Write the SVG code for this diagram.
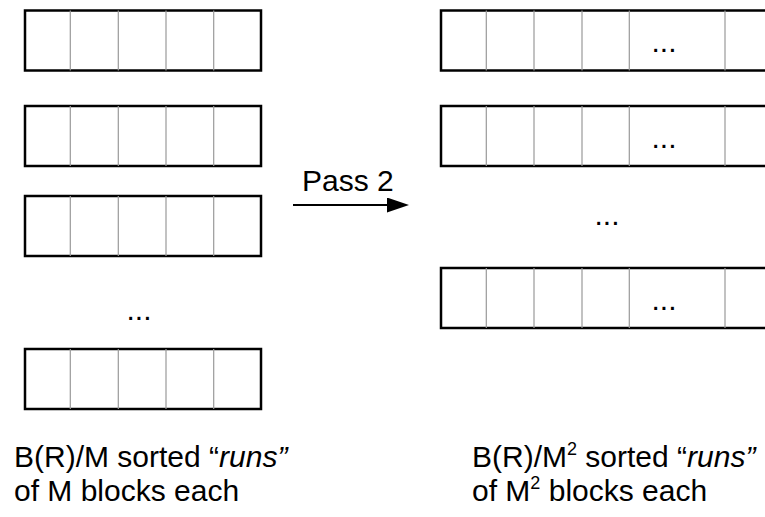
<svg xmlns="http://www.w3.org/2000/svg" width="765" height="517" viewBox="0 0 765 517">
<defs>
<style>
.frame{fill:#fff;stroke:#000;stroke-width:2.5}
.div{stroke:#999;stroke-width:1.2}
.t{font-family:"Liberation Sans",Arial,sans-serif;fill:#000;font-size:30px}
.dots{font-family:"Liberation Sans",Arial,sans-serif;font-size:30px;fill:#000;text-anchor:middle}
</style>
<marker id="ah" markerWidth="22" markerHeight="15" refX="0" refY="7.5" orient="auto" markerUnits="userSpaceOnUse" viewBox="0 0 22 15">
<path d="M0,0 L22,7.5 L0,15 Z" fill="#000"/>
</marker>
<g id="rowL">
<rect class="frame" x="25" y="0" width="236" height="60"/>
<line class="div" x1="70.3" y1="0" x2="70.3" y2="60"/>
<line class="div" x1="118.3" y1="0" x2="118.3" y2="60"/>
<line class="div" x1="166" y1="0" x2="166" y2="60"/>
<line class="div" x1="213.7" y1="0" x2="213.7" y2="60"/>
</g>
<g id="rowR">
<path class="frame" d="M770,0 H441 V60 H770"/>
<line class="div" x1="486.3" y1="0" x2="486.3" y2="60"/>
<line class="div" x1="534" y1="0" x2="534" y2="60"/>
<line class="div" x1="582" y1="0" x2="582" y2="60"/>
<line class="div" x1="629.3" y1="0" x2="629.3" y2="60"/>
<line class="div" x1="725" y1="0" x2="725" y2="60"/>
</g>
</defs>
<g id="left-run-1"><use href="#rowL" y="10.5"/></g>
<g id="left-run-2"><use href="#rowL" y="106"/></g>
<g id="left-run-3"><use href="#rowL" y="196"/></g>
<g id="left-ellipsis"><text class="dots" x="139" y="320">...</text></g>
<g id="left-run-4"><use href="#rowL" y="349"/></g>

<g id="right-run-1"><use href="#rowR" y="10.5"/><text class="dots" x="664" y="52">...</text></g>
<g id="right-run-2"><use href="#rowR" y="106"/><text class="dots" x="664" y="148">...</text></g>
<g id="right-ellipsis"><text class="dots" x="607" y="225">...</text></g>
<g id="right-run-3"><use href="#rowR" y="268"/><text class="dots" x="664" y="310">...</text></g>

<g id="connectors">
<line x1="293" y1="205" x2="387" y2="205" stroke="#000" stroke-width="2" marker-end="url(#ah)"/>
</g>
<text class="t" x="302" y="191" font-size="29">Pass 2</text>

<g id="left-caption">
<text class="t" x="14" y="467">B(R)/M sorted “<tspan font-style="italic">runs”</tspan></text>
<text class="t" x="14" y="501">of M blocks each</text>
</g>
<g id="right-caption">
<text class="t" x="472" y="467">B(R)/M<tspan font-size="18" dy="-12">2</tspan><tspan dy="12"> sorted “</tspan><tspan font-style="italic">runs”</tspan></text>
<text class="t" x="472" y="501">of M<tspan font-size="18" dy="-12">2</tspan><tspan dy="12"> blocks each</tspan></text>
</g>
</svg>
